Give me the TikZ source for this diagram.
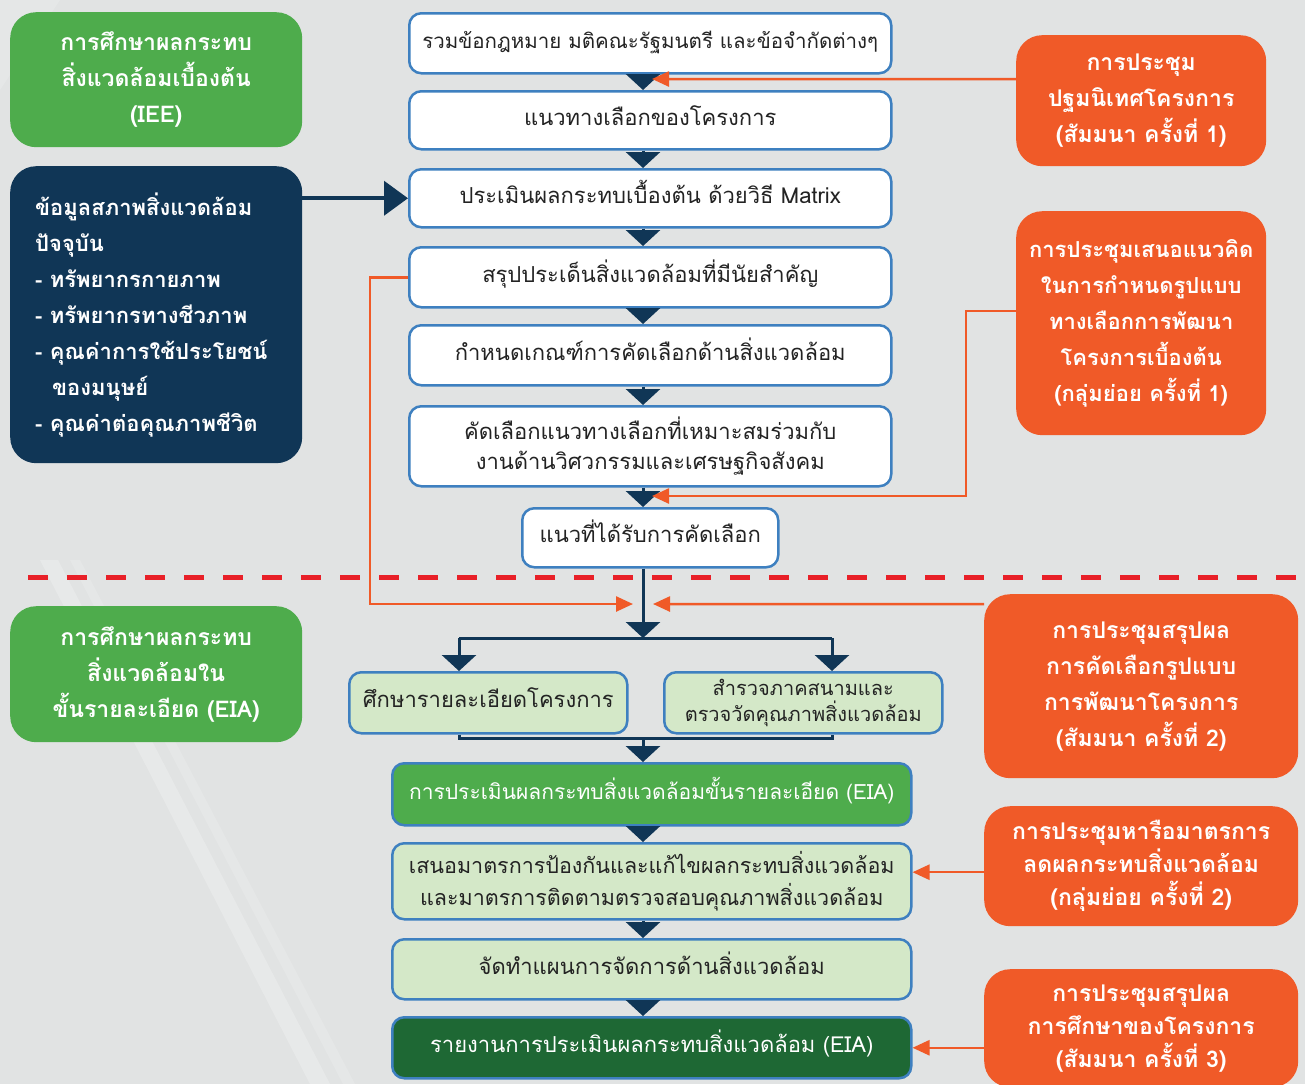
\documentclass[tikz,border=0pt]{standalone}
\usepackage{fontspec}
\setmainfont{Liberation Sans}
\newfontfamily\thai[Script=Thai]{Loma}
\usetikzlibrary{arrows.meta}
\definecolor{bg}{RGB}{225,227,227}
\definecolor{navy}{RGB}{16,54,86}
\definecolor{gr}{RGB}{78,172,76}
\definecolor{dgr}{RGB}{30,104,52}
\definecolor{lgr}{RGB}{212,232,200}
\definecolor{bord}{RGB}{62,128,192}
\definecolor{org}{RGB}{240,90,40}
\definecolor{dred}{RGB}{232,32,40}
\definecolor{txt}{RGB}{35,35,35}
\tikzset{
  cbox/.style={draw=bord, line width=2.5pt, fill=white, rounded corners=12pt,
    align=center, text=txt, font=\thai\fontsize{22}{30}\selectfont,
    inner sep=0pt, anchor=north west},
  one/.style={text height=15pt, text depth=5pt},
  lbox/.style={cbox, fill=lgr},
  sidebox/.style={rounded corners=26pt, text=white, align=center,
    font=\thai\bfseries\fontsize{23}{36}\selectfont, inner sep=0pt, anchor=north west},
  flow/.style={draw=navy, line width=3pt, -{Triangle[length=16pt,width=34pt]}},
  link/.style={draw=navy, line width=3pt},
  orarrow/.style={draw=org, line width=2.5pt, -{Triangle[length=17pt,width=15pt]}},
}
\begin{document}
\begin{tikzpicture}[x=1pt,y=-1pt]
\fill[bg] (0,0) rectangle (1305,1084);
\useasboundingbox (0,0) rectangle (1305,1084);
% faint diagonal streaks
\fill[white, opacity=0.22] (40,560) -- (58,560) -- (330,1084) -- (310,1084) -- cycle;
\fill[white, opacity=0.15] (70,560) -- (80,560) -- (355,1084) -- (343,1084) -- cycle;
\fill[white, opacity=0.15] (0,0) -- (60,0) -- (0,90) -- cycle;

% divider
\draw[dred, line width=5pt, dash pattern=on 20pt off 19pt] (28,577) -- (1300,577);

% left column
\node[sidebox, fill=gr, minimum width=292pt, minimum height=135pt] (iee) at (10,12)
  {การศึกษาผลกระทบ\\สิ่งแวดล้อมเบื้องต้น\\(IEE)};
\node[sidebox, fill=navy, minimum width=292pt, minimum height=297pt, align=left, text width=292pt,
      font=\thai\bfseries\fontsize{22}{36}\selectfont] (d) at (10,166)
  {\hspace*{25pt}ข้อมูลสภาพสิ่งแวดล้อม\\
   \hspace*{25pt}ปัจจุบัน\\
   \hspace*{25pt}- ทรัพยากรกายภาพ\\
   \hspace*{25pt}- ทรัพยากรทางชีวภาพ\\
   \hspace*{25pt}- คุณค่าการใช้ประโยชน์\\
   \hspace*{42pt}ของมนุษย์\\
   \hspace*{25pt}- คุณค่าต่อคุณภาพชีวิต};
\node[sidebox, fill=gr, minimum width=292pt, minimum height=136pt] (eia) at (10,606)
  {การศึกษาผลกระทบ\\สิ่งแวดล้อมใน\\ขั้นรายละเอียด (EIA)};

% centre column, upper part
\node[cbox, one, minimum width=482pt, minimum height=60pt, font=\thai\fontsize{20.5}{30}\selectfont] (s1) at (408,12)
  {รวมข้อกฎหมาย มติคณะรัฐมนตรี และข้อจำกัดต่างๆ};
\node[cbox, one, minimum width=482pt, minimum height=58pt] (s2) at (408,90)
  {แนวทางเลือกของโครงการ};
\node[cbox, one, minimum width=482pt, minimum height=58pt] (s3) at (408,168)
  {ประเมินผลกระทบเบื้องต้น ด้วยวิธี Matrix};
\node[cbox, one, minimum width=482pt, minimum height=60pt] (s4) at (408,246)
  {สรุปประเด็นสิ่งแวดล้อมที่มีนัยสำคัญ};
\node[cbox, one, minimum width=482pt, minimum height=60pt] (s5) at (408,324)
  {กำหนดเกณฑ์การคัดเลือกด้านสิ่งแวดล้อม};
\node[cbox, minimum width=482pt, minimum height=80pt] (s6) at (408,405)
  {คัดเลือกแนวทางเลือกที่เหมาะสมร่วมกับ\\งานด้านวิศวกรรมและเศรษฐกิจสังคม};
\node[cbox, one, minimum width=256pt, minimum height=59pt] (s7) at (521,507)
  {แนวที่ได้รับการคัดเลือก};

% centre column, lower part
\node[lbox, one, minimum width=278pt, minimum height=61pt] (sa) at (348,671)
  {ศึกษารายละเอียดโครงการ};
\node[lbox, minimum width=278pt, minimum height=61pt, font=\thai\fontsize{20}{26}\selectfont] (sb) at (663,671)
  {สำรวจภาคสนามและ\\ตรวจวัดคุณภาพสิ่งแวดล้อม};
\node[cbox, one, fill=gr, text=white, minimum width=519pt, minimum height=62pt, font=\thai\fontsize{21}{30}\selectfont] (e1) at (391,762)
  {การประเมินผลกระทบสิ่งแวดล้อมขั้นรายละเอียด (EIA)};
\node[lbox, minimum width=519pt, minimum height=76pt, font=\thai\fontsize{21.5}{32}\selectfont] (e2) at (391,842)
  {เสนอมาตรการป้องกันและแก้ไขผลกระทบสิ่งแวดล้อม\\และมาตรการติดตามตรวจสอบคุณภาพสิ่งแวดล้อม};
\node[lbox, one, minimum width=519pt, minimum height=60pt] (e3) at (391,938)
  {จัดทำแผนการจัดการด้านสิ่งแวดล้อม};
\node[cbox, one, fill=dgr, text=white, minimum width=519pt, minimum height=61pt] (e4) at (391,1016)
  {รายงานการประเมินผลกระทบสิ่งแวดล้อม (EIA)};

% right column
\node[sidebox, fill=org, minimum width=250pt, minimum height=131pt] (o1) at (1016,35)
  {การประชุม\\ปฐมนิเทศโครงการ\\(สัมมนา ครั้งที่ 1)};
\node[sidebox, fill=org, minimum width=250pt, minimum height=224pt, font=\thai\bfseries\fontsize{22}{36}\selectfont] (o2) at (1016,211)
  {การประชุมเสนอแนวคิด\\ในการกำหนดรูปแบบ\\ทางเลือกการพัฒนา\\โครงการเบื้องต้น\\(กลุ่มย่อย ครั้งที่ 1)};
\node[sidebox, fill=org, minimum width=314pt, minimum height=184pt] (o3) at (984,594)
  {การประชุมสรุปผล\\การคัดเลือกรูปแบบ\\การพัฒนาโครงการ\\(สัมมนา ครั้งที่ 2)};
\node[sidebox, fill=org, minimum width=314pt, minimum height=120pt, font=\thai\bfseries\fontsize{23}{33}\selectfont] (o4) at (984,806)
  {การประชุมหารือมาตรการ\\ลดผลกระทบสิ่งแวดล้อม\\(กลุ่มย่อย ครั้งที่ 2)};
\node[sidebox, fill=org, minimum width=314pt, minimum height=118pt, font=\thai\bfseries\fontsize{23}{33}\selectfont] (o5) at (984,969)
  {การประชุมสรุปผล\\การศึกษาของโครงการ\\(สัมมนา ครั้งที่ 3)};

% flow coordinates
\coordinate (fx) at (643,0);
\coordinate (br) at (643,638);
\coordinate (bl) at (459,638);
\coordinate (brr) at (832,638);
\coordinate (mg) at (643,738);
\coordinate (t1) at (652,79);
\coordinate (t2) at (652,496);
\coordinate (t3) at (633,604);
\coordinate (t4) at (653,604);

% navy flow
\draw[flow] (s1.south -| fx) -- (s2.north -| fx);
\draw[flow] (s2.south -| fx) -- (s3.north -| fx);
\draw[flow] (s3.south -| fx) -- (s4.north -| fx);
\draw[flow] (s4.south -| fx) -- (s5.north -| fx);
\draw[flow] (s5.south -| fx) -- (s6.north -| fx);
\draw[flow] (s6.south -| fx) -- (s7.north -| fx);
\draw[flow] (s7.south -| fx) -- (br);
\draw[link] (bl) -- (brr);
\draw[flow] (bl) -- (bl |- sa.north);
\draw[flow] (brr) -- (brr |- sb.north);
\draw[link] (bl |- sa.south) |- (mg) -| (brr |- sb.south);
\draw[flow] (mg) -- (e1.north -| fx);
\draw[flow] (e1.south -| fx) -- (e2.north -| fx);
\draw[flow] (e2.south -| fx) -- (e3.north -| fx);
\draw[flow] (e3.south -| fx) -- (e4.north -| fx);
\draw[navy, line width=4pt, -{Triangle[length=24pt,width=34pt]}] (d.east |- s3.west) -- (s3.west);

% orange links
\draw[orarrow] ([yshift=21.5pt]o1.west) -- (t1);
\draw[orarrow] ([yshift=12pt]o2.west) -- ++(-50,0) |- (t2);
\draw[orarrow] (s4.west) -- ++(-38,0) |- (t3);
\draw[orarrow] ([yshift=82pt]o3.west) -- (t4);
\draw[orarrow] ([yshift=-6pt]o4.west) -- ([yshift=-6pt]o4.west -| e2.east);
\draw[orarrow] (e4.east -| o5.west) -- (e4.east);
\end{tikzpicture}
\end{document}
